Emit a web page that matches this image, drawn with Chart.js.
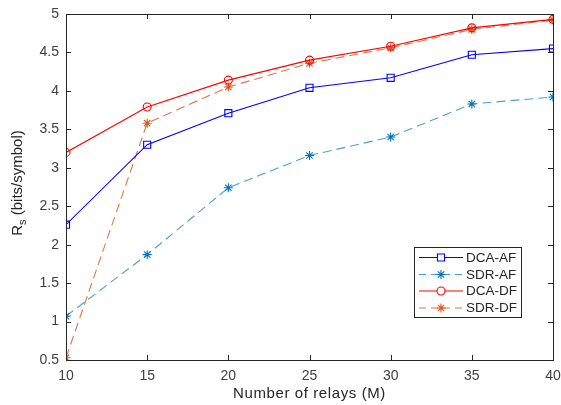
<!DOCTYPE html>
<html>
<head>
<meta charset="utf-8">
<script src="https://cdn.jsdelivr.net/npm/chart.js@4.4.1/dist/chart.umd.min.js"></script>
<style>
html,body{margin:0;padding:0;background:#fff;}
#wrap{width:561px;height:405px;}
</style>
</head>
<body>
<div id="wrap"><canvas id="c" width="561" height="405"></canvas></div>
<script>
const relays = [10, 15, 20, 25, 30, 35, 40];
const dcaAF = [2.26, 3.30, 3.71, 4.04, 4.17, 4.47, 4.55];
const sdrAF = [1.07, 1.87, 2.74, 3.16, 3.40, 3.83, 3.92];
const dcaDF = [3.20, 3.79, 4.14, 4.40, 4.58, 4.82, 4.93];
const sdrDF = [0.53, 3.58, 4.05, 4.36, 4.56, 4.80, 4.92];
const xTicks = [10, 15, 20, 25, 30, 35, 40];
const yTicks = [0.5, 1, 1.5, 2, 2.5, 3, 3.5, 4, 4.5, 5];
const seriesNames = ['DCA-AF', 'SDR-AF', 'DCA-DF', 'SDR-DF'];
const xTitle = 'Number of relays (M)';

const pts = arr => relays.map((x, i) => ({x: x, y: arr[i]}));
const FONT = '"Liberation Sans", Arial, sans-serif';
const AXC = '#262626';

const styles = [
  {color: '#0000ff', dash: [], point: 'rect', r: 5},
  {color: '#0072BD', line: '#4a9fd6', dash: [9, 5], point: 'star', r: 4.5},
  {color: '#ff0000', dash: [], point: 'circle', r: 4},
  {color: '#D95319', line: '#e0764a', dash: [9, 5], point: 'star', r: 4.5}
];
const dataArr = [dcaAF, sdrAF, dcaDF, sdrDF];

const datasets = dataArr.map((d, i) => ({
  label: seriesNames[i],
  data: pts(d),
  borderColor: styles[i].line || styles[i].color,
  borderWidth: 1.1,
  borderDash: styles[i].dash,
  pointStyle: styles[i].point,
  pointRadius: styles[i].r,
  pointBorderColor: styles[i].color,
  pointBackgroundColor: 'rgba(0,0,0,0)',
  pointBorderWidth: 1.1,
  tension: 0,
  fill: false
}));

const boxPlugin = {
  id: 'box',
  afterDatasetsDraw(chart) {
    const {ctx, chartArea: a, scales} = chart;
    ctx.save();
    ctx.strokeStyle = AXC;
    ctx.lineWidth = 1;
    ctx.strokeRect(Math.round(a.left) + 0.5, Math.round(a.top) + 0.5, Math.round(a.right - a.left), Math.round(a.bottom - a.top));
    const tl = 5;
    ctx.beginPath();
    xTicks.forEach(v => {
      const x = Math.round(scales.x.getPixelForValue(v)) + 0.5;
      ctx.moveTo(x, a.bottom); ctx.lineTo(x, a.bottom - tl);
      ctx.moveTo(x, a.top); ctx.lineTo(x, a.top + tl);
    });
    yTicks.forEach(v => {
      const y = Math.round(scales.y.getPixelForValue(v)) + 0.5;
      ctx.moveTo(a.left, y); ctx.lineTo(a.left + tl, y);
      ctx.moveTo(a.right, y); ctx.lineTo(a.right - tl, y);
    });
    ctx.stroke();

    // x title
    ctx.fillStyle = AXC;
    ctx.font = '15px ' + FONT;
    ctx.textBaseline = 'middle';
    ctx.textAlign = 'center';
    if ('letterSpacing' in ctx) ctx.letterSpacing = '0.6px';
    ctx.fillText(xTitle, (a.left + a.right) / 2, 394);
    if ('letterSpacing' in ctx) ctx.letterSpacing = '0px';

    // y title with subscript
    ctx.translate(18, 183);
    ctx.rotate(-Math.PI / 2);
    ctx.textAlign = 'left';
    const f1 = '15px ' + FONT, f2 = '11px ' + FONT;
    ctx.font = f1; const wR = ctx.measureText('R').width;
    ctx.font = f2; const wS = ctx.measureText('s').width;
    ctx.font = f1; const wRest = ctx.measureText(' (bits/symbol)').width;
    const total = wR + wS + wRest;
    let x0 = -total / 2;
    ctx.font = f1; ctx.fillText('R', x0, 0);
    ctx.font = f2; ctx.fillText('s', x0 + wR, 5);
    ctx.font = f1; ctx.fillText(' (bits/symbol)', x0 + wR + wS, 0);
    ctx.restore();

    // legend
    ctx.save();
    const lx = 414, ly = 247, lw = 107, lh = 70;
    ctx.fillStyle = '#fff';
    ctx.fillRect(lx, ly, lw, lh);
    ctx.strokeStyle = AXC;
    ctx.lineWidth = 1;
    ctx.strokeRect(lx + 0.5, ly + 0.5, lw, lh);
    const rows = [257.5, 274.5, 291, 308];
    ctx.font = '13.5px ' + FONT;
    ctx.textBaseline = 'middle';
    seriesNames.forEach((n, i) => {
      const s = styles[i];
      const y = rows[i];
      ctx.strokeStyle = s.line || s.color;
      ctx.lineWidth = 1.1;
      ctx.setLineDash(s.dash.length ? [7, 5] : []);
      ctx.beginPath();
      ctx.moveTo(419, y); ctx.lineTo(463, y);
      ctx.stroke();
      ctx.setLineDash([]);
      ctx.fillStyle = '#fff';
      ctx.strokeStyle = s.color;
      ctx.lineWidth = 1.1;
      Chart.helpers.drawPoint(ctx, {pointStyle: s.point, radius: s.r, borderWidth: 1.1}, 441, y);
      ctx.fillStyle = AXC;
      ctx.fillText(n, 466, y + 0.5);
    });
    ctx.restore();
  }
};

new Chart(document.getElementById('c'), {
  type: 'line',
  data: {datasets},
  plugins: [boxPlugin],
  options: {
    responsive: false,
    animation: false,
    layout: {padding: {top: 14, right: 8, left: 0, bottom: 0}},
    plugins: {legend: {display: false}, tooltip: {enabled: false}},
    scales: {
      x: {
        type: 'linear', min: 10, max: 40,
        afterBuildTicks: s => { s.ticks = xTicks.map(v => ({value: v})); },
        afterFit: s => { s.height = 45; s.paddingLeft = 0; s.paddingRight = 0; },
        grid: {display: false, drawTicks: false},
        border: {display: false},
        ticks: {font: {family: FONT, size: 14}, color: '#404040', padding: 8, maxRotation: 0}
      },
      y: {
        type: 'linear', min: 0.5, max: 5,
        afterBuildTicks: s => { s.ticks = yTicks.map(v => ({value: v})); },
        afterFit: s => { s.width = 66; s.paddingTop = 0; s.paddingBottom = 0; },
        grid: {display: false, drawTicks: false},
        border: {display: false},
        ticks: {font: {family: FONT, size: 14}, color: '#404040', padding: 7, callback: v => String(v)}
      }
    }
  }
});
</script>
</body>
</html>
